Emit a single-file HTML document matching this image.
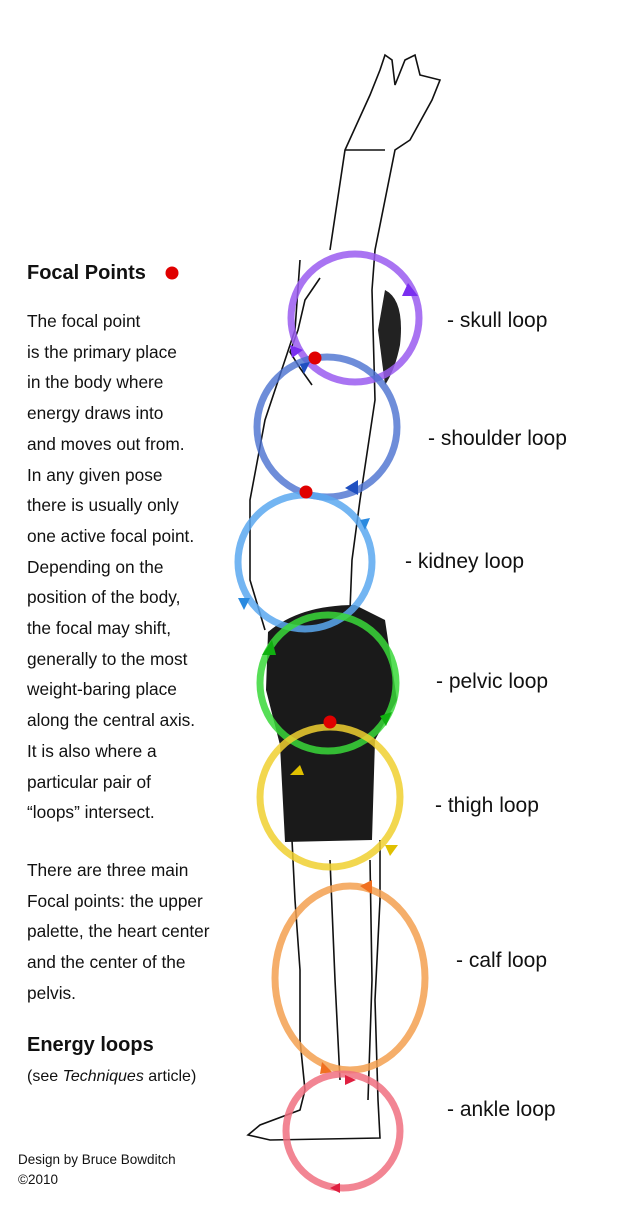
<!DOCTYPE html>
<html><head><meta charset="utf-8"><style>
html,body{margin:0;padding:0;background:#fff;}
body{width:640px;height:1225px;position:relative;overflow:hidden;font-family:"Liberation Sans",sans-serif;color:#111;}
.t{position:absolute;left:27px;font-size:17.3px;line-height:30.7px;white-space:nowrap;}
.l{position:absolute;font-size:21px;white-space:nowrap;}
svg{position:absolute;left:0;top:0;}
</style></head><body>
<svg width="640" height="1225" viewBox="0 0 640 1225">
<g fill="none" stroke="#111" stroke-width="1.6">
<path d="M330,250 L345,150 L370,95 L380,70 L385,55 L392,60 L395,85 L405,60 L415,55 L420,75 L440,80 L432,100 L410,140 L395,150 L385,200 L375,250 L372,290"/>
<path d="M345,150 L385,150"/>
<path d="M300,260 L295,330 L285,360 L265,420 L250,500 L250,580 L265,630"/>
<path d="M372,290 L375,400 L360,500 L352,560 L350,610"/>
<path d="M320,278 L305,300 L298,330 L290,352 L300,368 L312,385"/>
<path d="M292,840 L295,900 L300,970 L300,1040 L305,1090 L300,1110 L260,1125 L248,1135 L270,1140 L380,1138 L378,1100 L375,1000 L380,900 L380,840"/>
<path d="M330,860 L335,980 L340,1080"/>
<path d="M370,860 L372,980 L368,1100"/>
</g>
<path d="M385,290 Q405,300 400,345 Q395,370 385,385 L378,330 Z" fill="#222"/>
<path d="M268,632 Q300,605 355,605 L385,620 L397,700 L375,740 L372,840 L285,842 L280,745 L266,690 Z" fill="#1a1a1a"/>
<g fill="none" stroke-width="7">
<circle cx="355" cy="318" r="64" stroke="#9a5cf0" opacity="0.85"/>
<circle cx="327" cy="427" r="70" stroke="#4a70d0" opacity="0.8"/>
<circle cx="305" cy="562" r="67" stroke="#5aa8f0" opacity="0.85"/>
<circle cx="328" cy="683" r="68" stroke="#3ad83a" opacity="0.85"/>
<circle cx="330" cy="797" r="70" stroke="#f0d030" opacity="0.85"/>
<ellipse cx="350" cy="978" rx="75" ry="92" stroke="#f3a050" opacity="0.85"/>
<circle cx="343" cy="1131" r="57" stroke="#f07080" opacity="0.85"/>
</g>
<g>
<polygon points="408,283 418,296 402,296" fill="#7a2ef0"/>
<polygon points="290,345 303,350 292,358" fill="#7a2ef0"/>
<polygon points="300,364 310,362 304,374" fill="#2050c0"/>
<polygon points="345,488 358,480 358,495" fill="#2050c0"/>
<polygon points="360,520 370,518 365,530" fill="#2a8ae0"/>
<polygon points="238,598 250,598 244,610" fill="#2a8ae0"/>
<polygon points="262,655 272,640 276,655" fill="#10b010"/>
<polygon points="380,716 392,712 386,726" fill="#10b010"/>
<polygon points="290,775 300,765 304,775" fill="#e0c000"/>
<polygon points="385,845 398,845 390,856" fill="#e0c000"/>
<polygon points="360,886 372,880 372,894" fill="#f07020"/>
<polygon points="322,1062 332,1072 320,1074" fill="#f07020"/>
<polygon points="345,1075 356,1080 345,1085" fill="#e02040"/>
<polygon points="340,1183 330,1188 340,1193" fill="#e02040"/>
</g>
<g fill="#e00000">
<circle cx="172" cy="273" r="6.5"/>
<circle cx="315" cy="358" r="6.5"/>
<circle cx="306" cy="492" r="6.5"/>
<circle cx="330" cy="722" r="6.5"/>
</g>
</svg>
<div class="t" style="top:258px;font-size:20px;font-weight:bold;">Focal Points</div>
<div class="t" style="top:306px;">The focal point<br>is the primary place<br>in the body where<br>energy draws into<br>and moves out from.<br>In any given pose<br>there is usually only<br>one active focal point.<br>Depending on the<br>position of the body,<br>the focal may shift,<br>generally to the most<br>weight-baring place<br>along the central axis.<br>It is also where a<br>particular pair of<br>“loops” intersect.</div>
<div class="t" style="top:855px;">There are three main<br>Focal points: the upper<br>palette, the heart center<br>and the center of the<br>pelvis.</div>
<div class="t" style="top:1030px;font-size:20px;font-weight:bold;">Energy loops</div>
<div class="t" style="top:1062px;font-size:16px;">(see <i>Techniques</i> article)</div>
<div class="t" style="left:18px;top:1150px;font-size:13.5px;line-height:20px;">Design by Bruce Bowditch<br>©2010</div>
<div class="l" style="left:447px;top:309px;">- skull loop</div>
<div class="l" style="left:428px;top:427px;">- shoulder loop</div>
<div class="l" style="left:405px;top:550px;">- kidney loop</div>
<div class="l" style="left:436px;top:670px;">- pelvic loop</div>
<div class="l" style="left:435px;top:794px;">- thigh loop</div>
<div class="l" style="left:456px;top:949px;">- calf loop</div>
<div class="l" style="left:447px;top:1098px;">- ankle loop</div>
</body></html>
